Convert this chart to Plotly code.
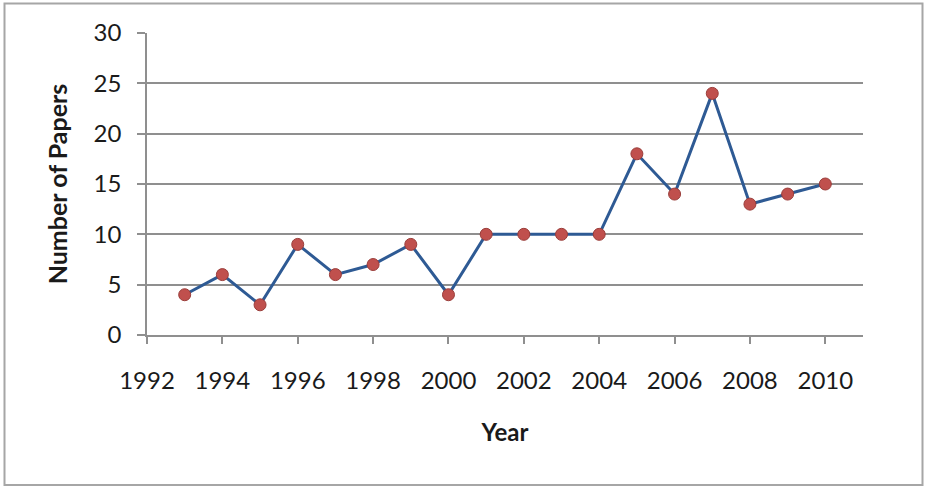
import plotly.graph_objects as go

years = [1993, 1994, 1995, 1996, 1997, 1998, 1999, 2000, 2001, 2002,
         2003, 2004, 2005, 2006, 2007, 2008, 2009, 2010]
papers = [4, 6, 3, 9, 6, 7, 9, 4, 10, 10, 10, 10, 18, 14, 24, 13, 14, 15]
x_ticks = [1992, 1994, 1996, 1998, 2000, 2002, 2004, 2006, 2008, 2010]
y_ticks = [0, 5, 10, 15, 20, 25, 30]

FONT = "Lato, Calibri, 'Open Sans', sans-serif"
GRID = "#8f8f8f"

fig = go.Figure()
fig.add_trace(go.Scatter(
    x=years, y=papers, mode="lines+markers",
    line=dict(color="#2E5A94", width=3),
    marker=dict(size=12, color="#C0504D", line=dict(color="#9A3D3A", width=1)),
    showlegend=False,
))

fig.update_layout(
    width=930, height=489, autosize=False,
    margin=dict(l=147, r=67, t=33, b=154),
    paper_bgcolor="white", plot_bgcolor="white",
    font=dict(family=FONT, size=24, color="#1a1a1a"),
    xaxis=dict(
        range=[1992, 2011], tickvals=x_ticks, ticktext=[str(v) for v in x_ticks],
        showgrid=False, zeroline=False,
        showline=True, linecolor=GRID, linewidth=1.5,
        ticks="outside", ticklen=7, tickwidth=1.5, tickcolor=GRID,
        ticklabelstandoff=16,
        title=dict(text="<b>Year</b>", font=dict(size=24), standoff=32),
    ),
    yaxis=dict(
        range=[0, 30], tickvals=y_ticks,
        showgrid=True, gridcolor=GRID, gridwidth=1.5,
        zeroline=False,
        showline=True, linecolor=GRID, linewidth=1.5,
        ticks="outside", ticklen=8, tickwidth=1.5, tickcolor=GRID,
        ticklabelstandoff=11,
        title=dict(text="<b>Number of Papers</b>", font=dict(size=25), standoff=19),
    ),
    shapes=[dict(
        type="rect", xref="paper", yref="paper",
        x0=(4.5 - 147) / 716, x1=(922.5 - 147) / 716,
        y0=(335 - 485) / 302, y1=(335 - 3.5) / 302,
        line=dict(color="#a6a6a6", width=2), fillcolor="rgba(0,0,0,0)", layer="below",
    )],
)

fig.write_html("out.html")
